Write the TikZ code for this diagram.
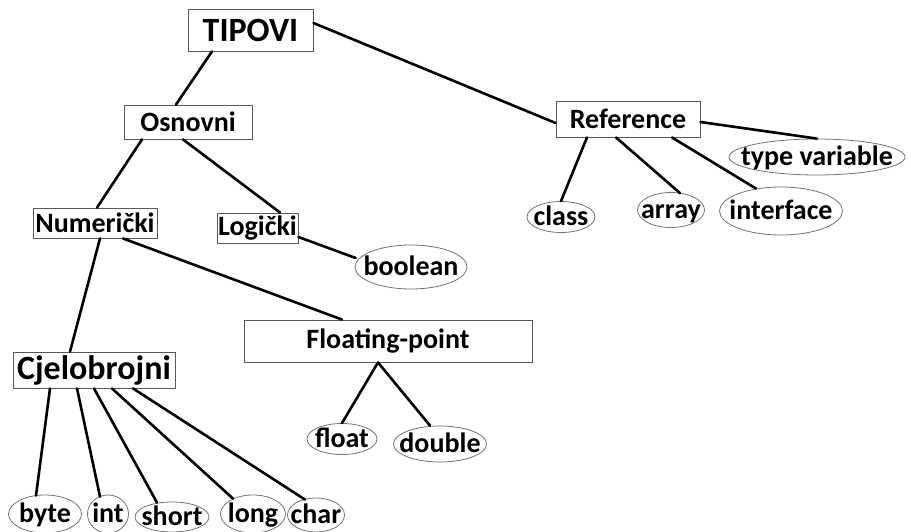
\documentclass[tikz,border=0pt]{standalone}
\usepackage{fontspec}
\setmainfont{Carlito}
\usetikzlibrary{shapes.geometric}

% text that does not widen the ellipse around it
\newcommand{\leaftext}[1]{\smash{\makebox[0pt]{\raisebox{-0.3em}{#1}}}}

\tikzset{
  txt/.style={font=\bfseries\fontsize{28}{30}\selectfont, text=black},
  bigtxt/.style={font=\bfseries\fontsize{34}{36}\selectfont, text=black},
  box/.style={draw=black!65, line width=0.9pt, fill=white, rectangle, inner sep=0pt,
    minimum width=#1},
  leaf/.style={draw=black!55, line width=0.8pt, fill=white, ellipse, inner sep=0pt,
    minimum width=#1},
  link/.style={line width=2.6pt, black, line cap=round},
}

\begin{document}
\begin{tikzpicture}[x=1pt, y=-1pt]
\useasboundingbox (0,0) rectangle (911,532);

% boxes for the type categories
\node[box=125pt, minimum height=42pt, bigtxt] (tipovi) at (250.5,30) {TIPOVI};
\node[box=128pt, minimum height=34pt, txt] (osnovni) at (188,122) {Osnovni\hspace{13pt}};
\node[box=124pt, minimum height=30pt, txt] (numericki) at (95,223) {Numerički};
\node[box=81pt, minimum height=30pt, txt] (logicki) at (257.5,228) {Logički};
\node[box=288pt, minimum height=42pt, txt] (floating) at (388,341) {Floating-point\hspace{26pt}};
\node[box=162pt, minimum height=36pt, bigtxt] (cjelo) at (94,370) {Cjelobrojni};
\node[box=144pt, minimum height=36pt, txt] (reference) at (628,119) {Reference\hspace{8pt}};

% ellipses for the concrete types
\node[leaf=112pt, minimum height=44pt, txt] (boolean) at (411,267) {\leaftext{boolean}};
\node[leaf=70pt, minimum height=31pt, txt] (float) at (342,439) {\leaftext{float}};
\node[leaf=93pt, minimum height=36pt, txt] (double) at (440,444) {\leaftext{double}};
\node[leaf=73pt, minimum height=38pt, txt] (byte) at (45,514) {\leaftext{byte}};
\node[leaf=41pt, minimum height=38pt, txt] (int) at (108,514) {\leaftext{int}};
\node[leaf=74pt, minimum height=30pt, txt] (short) at (172,517) {\leaftext{short}};
\node[leaf=65pt, minimum height=38pt, txt] (long) at (253,514) {\leaftext{long}};
\node[leaf=57pt, minimum height=34pt, txt] (char) at (316,515) {\leaftext{char}};
\node[leaf=176pt, minimum height=36pt, txt] (typevar) at (817,157) {\leaftext{type variable}};
\node[leaf=68pt, minimum height=31pt, txt] (class) at (561,217) {\leaftext{class}};
\node[leaf=67pt, minimum height=35pt, txt] (array) at (671,210) {\leaftext{array}};
\node[leaf=123pt, minimum height=48pt, txt] (interface) at (781,211) {\leaftext{interface}};

% tree connectors
\draw[link] ([shift={(-38.5,0)}]tipovi.south) -- ([shift={(-12,0)}]osnovni.north);
\draw[link] ([shift={(0,-7)}]tipovi.east) -- ([shift={(0,4)}]reference.west);
\draw[link] ([shift={(-46,0)}]osnovni.south) -- ([shift={(2,0)}]numericki.north);
\draw[link] ([shift={(-5,0)}]osnovni.south) -- ([shift={(22.5,0)}]logicki.north);
\draw[link] ([shift={(0,9)}]logicki.east) -- ([shift={(1,-9)}]boolean.west);
\draw[link] ([shift={(28,0)}]numericki.south) -- ([shift={(-46,0)}]floating.north);
\draw[link] ([shift={(5,0)}]numericki.south) -- ([shift={(-24,0)}]cjelo.north);
\draw[link] ([shift={(-10,0)}]floating.south) -- (float.north);
\draw[link] ([shift={(-10,0)}]floating.south) -- ([shift={(-10,0)}]double.north);
\draw[link] ([shift={(-44,0)}]cjelo.south) -- ([shift={(-9,1)}]byte.north);
\draw[link] ([shift={(-17,0)}]cjelo.south) -- ([shift={(-8,2)}]int.north);
\draw[link] (cjelo.south) -- ([shift={(-15,1)}]short.north);
\draw[link] ([shift={(18,0)}]cjelo.south) -- ([shift={(-20,4)}]long.north);
\draw[link] ([shift={(39,0)}]cjelo.south) -- ([shift={(-11,2)}]char.north);
\draw[link] ([shift={(0,3)}]reference.east) -- (typevar.north);
\draw[link] ([shift={(-41,0)}]reference.south) -- (class.north);
\draw[link] ([shift={(-12,0)}]reference.south) -- ([shift={(9,1)}]array.north);
\draw[link] ([shift={(44,0)}]reference.south) -- ([shift={(-25,2)}]interface.north);
\end{tikzpicture}
\end{document}
